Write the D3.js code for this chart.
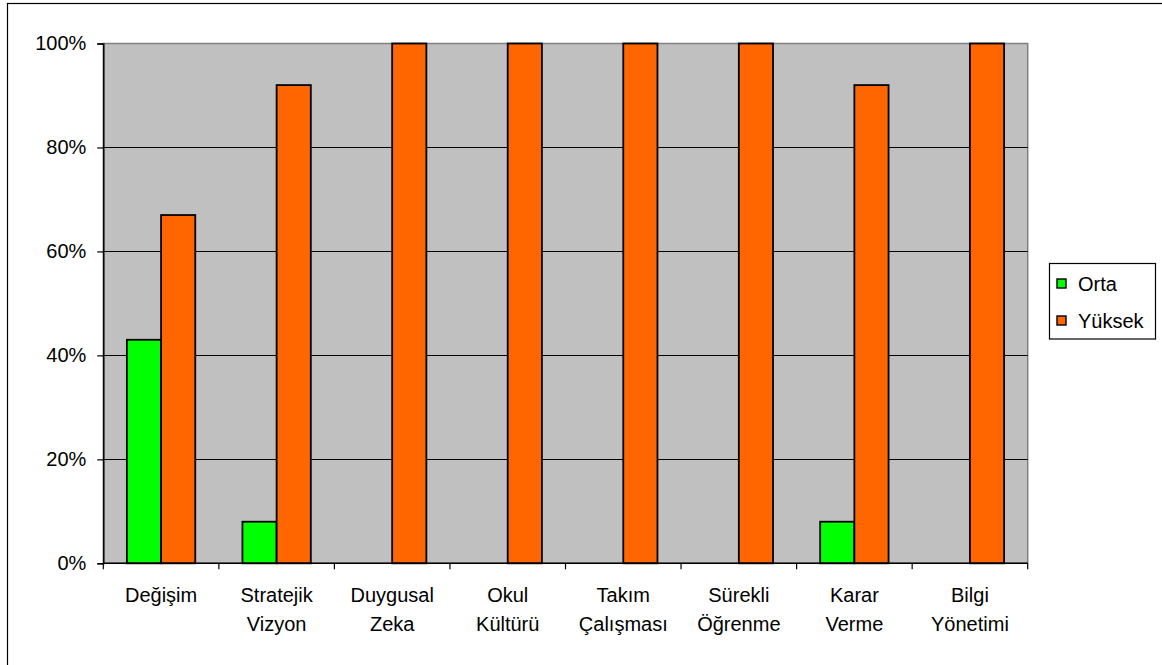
<!DOCTYPE html>
<html>
<head>
<meta charset="utf-8">
<script src="https://cdn.jsdelivr.net/npm/d3@7"></script>
<style>
  html, body { margin: 0; padding: 0; background: #fff; }
  svg text { font-family: "Liberation Sans", Arial, sans-serif; fill: #000; }
</style>
</head>
<body>
<svg id="chart" width="1162" height="665"></svg>
<script>
// Competency areas and the share of respondents at each level
const categories = [
  ["Değişim"],
  ["Stratejik", "Vizyon"],
  ["Duygusal", "Zeka"],
  ["Okul", "Kültürü"],
  ["Takım", "Çalışması"],
  ["Sürekli", "Öğrenme"],
  ["Karar", "Verme"],
  ["Bilgi", "Yönetimi"]
];
const seriesNames = ["Orta", "Yüksek"];
const orta   = [43, 8, 0, 0, 0, 0, 8, 0];
const yuksek = [67, 92, 100, 100, 100, 100, 92, 100];
const yTicks = [0, 20, 40, 60, 80, 100];
const colors = { "Orta": "#00ff00", "Yüksek": "#ff6600" };

const svg = d3.select("#chart");
const plot = { left: 103.3, right: 1027.7, top: 43.5, bottom: 563.3 };
const fontSize = 20;

const catKeys = categories.map(c => c.join(" "));
const x = d3.scaleBand().domain(catKeys).range([plot.left, plot.right]).padding(0);
const xs = d3.scaleBand().domain(seriesNames).range([0, x.bandwidth()]).paddingInner(0).paddingOuter(0.69);
const y = d3.scaleLinear().domain([0, 100]).range([plot.bottom, plot.top]);

// outer chart frame (runs off the right and bottom edges)
svg.append("rect")
  .attr("x", 7.5).attr("y", 3.5)
  .attr("width", 1200).attr("height", 700)
  .attr("fill", "none").attr("stroke", "#000").attr("stroke-width", 1.2);

// plot background
svg.append("rect")
  .attr("x", plot.left).attr("y", plot.top)
  .attr("width", plot.right - plot.left).attr("height", plot.bottom - plot.top)
  .attr("fill", "#c0c0c0").attr("stroke", "#808080").attr("stroke-width", 1.5);

// horizontal gridlines
svg.append("g").selectAll("line")
  .data(yTicks.filter(t => t > 0 && t < 100))
  .join("line")
  .attr("x1", plot.left).attr("x2", plot.right)
  .attr("y1", d => Math.round(y(d)) + 0.5).attr("y2", d => Math.round(y(d)) + 0.5)
  .attr("stroke", "#000").attr("stroke-width", 1);

// bars
const rows = catKeys.map((k, i) => ({ key: k, values: [
  { s: "Orta", v: orta[i] }, { s: "Yüksek", v: yuksek[i] }
]}));
const groups = svg.append("g").selectAll("g")
  .data(rows).join("g")
  .attr("transform", d => `translate(${x(d.key)},0)`);
groups.selectAll("rect")
  .data(d => d.values.filter(e => e.v > 0))
  .join("rect")
  .attr("x", d => xs(d.s))
  .attr("width", xs.bandwidth())
  .attr("y", d => y(d.v))
  .attr("height", d => y(0) - y(d.v))
  .attr("fill", d => colors[d.s])
  .attr("stroke", "#000").attr("stroke-width", 1.8);

// y axis
const yAxis = d3.axisLeft(y).tickValues(yTicks).tickFormat(d => d + "%").tickSize(6).tickPadding(11);
const gy = svg.append("g").attr("transform", `translate(${plot.left},0)`).call(yAxis);
gy.select(".domain").attr("stroke", "#000").attr("stroke-width", 1.5);
gy.selectAll(".tick line").attr("stroke", "#000").attr("stroke-width", 1.2);
gy.selectAll(".tick text").attr("font-size", fontSize).attr("font-family", "Liberation Sans, Arial, sans-serif").attr("fill", "#000");

// x axis: ticks at category boundaries
const gx = svg.append("g");
gx.append("line")
  .attr("x1", plot.left).attr("x2", plot.right)
  .attr("y1", plot.bottom).attr("y2", plot.bottom)
  .attr("stroke", "#000").attr("stroke-width", 1.5);
const boundaries = catKeys.map(k => x(k)).concat([plot.right]);
gx.selectAll("line.tk").data(boundaries).join("line").attr("class", "tk")
  .attr("x1", d => d).attr("x2", d => d)
  .attr("y1", plot.bottom).attr("y2", plot.bottom + 6)
  .attr("stroke", "#000").attr("stroke-width", 1.2);
const labels = gx.selectAll("text.cat").data(categories).join("text").attr("class", "cat")
  .attr("text-anchor", "middle")
  .attr("font-size", fontSize)
  .attr("transform", (d, i) => `translate(${x(catKeys[i]) + x.bandwidth() / 2},${601.5})`);
labels.selectAll("tspan").data(d => d).join("tspan")
  .attr("x", 0).attr("dy", (d, i) => i === 0 ? 0 : 29.5)
  .text(d => d);

// legend
const legend = svg.append("g");
legend.append("rect")
  .attr("x", 1049.5).attr("y", 263.5).attr("width", 106).attr("height", 75.5)
  .attr("fill", "#fff").attr("stroke", "#000").attr("stroke-width", 1.2);
const items = legend.selectAll("g").data(seriesNames).join("g")
  .attr("transform", (d, i) => `translate(1057,${280 + i * 37})`);
items.append("rect")
  .attr("x", 0).attr("y", -1).attr("width", 9).attr("height", 9)
  .attr("fill", d => colors[d]).attr("stroke", "#000").attr("stroke-width", 1.4);
items.append("text")
  .attr("x", 21).attr("y", 10.5).attr("font-size", fontSize)
  .text(d => d);
</script>
</body>
</html>
